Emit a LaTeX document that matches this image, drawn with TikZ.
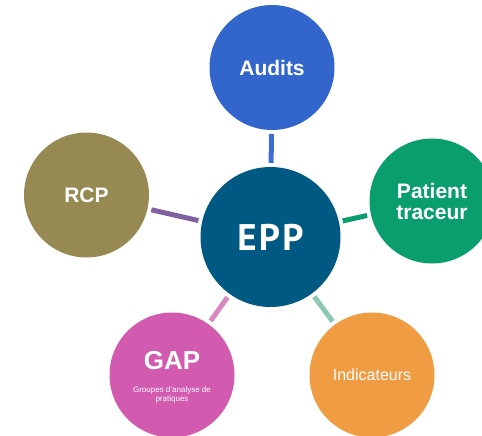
\documentclass[tikz,border=0pt]{standalone}
\usepackage{fontspec}
\setmainfont{Liberation Sans}
\newfontfamily\eppfont[LetterSpace=6]{PT Sans}
\definecolor{eppc}{RGB}{0,89,130}
\definecolor{audc}{RGB}{51,102,204}
\definecolor{patc}{RGB}{10,158,110}
\definecolor{indc}{RGB}{240,156,66}
\definecolor{gapc}{RGB}{210,90,175}
\definecolor{rcpc}{RGB}{150,138,82}
\definecolor{audl}{RGB}{60,110,210}
\definecolor{patl}{RGB}{10,158,110}
\definecolor{indl}{RGB}{140,200,180}
\definecolor{gapl}{RGB}{214,138,190}
\definecolor{rcpl}{RGB}{128,96,160}
\begin{document}
\begin{tikzpicture}[x=1pt,y=-1pt,
  bub/.style={circle, inner sep=0pt, outer sep=0pt, minimum size=125pt, text=white, align=center},
  conn/.style={line width=5pt, shorten <=4pt, shorten >=4pt},
  big/.style={font=\bfseries\fontsize{21}{21}\selectfont}]
\useasboundingbox (0,0) rectangle (482,436);
\clip (0,0) rectangle (482,436);
\node[bub, fill=eppc, minimum size=140pt] (epp) at (270.5,237) {\eppfont\bfseries\fontsize{37}{40}\selectfont EPP};
\node[bub, fill=audc, big] (aud) at (272,67.5) {Audits};
\node[bub, fill=patc, big] (pat) at (432,201) {Patient\\traceur};
\node[bub, fill=indc, font=\fontsize{16}{18}\selectfont] (ind) at (372,375) {Indicateurs};
\node[bub, fill=gapc] (gap) at (172,375) {};
\node[bub, fill=rcpc, big] (rcp) at (86.5,195) {RCP};
\node[text=white, anchor=base, inner sep=0pt, font=\bfseries\fontsize{26}{28}\selectfont] (gapt) at (172,369.3) {GAP};
\node[text=white, anchor=base, inner sep=0pt, font=\fontsize{8}{9}\selectfont] (gapsa) at (172,392.7) {Groupes d'analyse de};
\node[text=white, anchor=base, inner sep=0pt, font=\fontsize{8}{9}\selectfont] (gapsb) at (172,401) {pratiques};
\draw[conn, draw=audl] (epp) -- (aud);
\draw[conn, draw=patl] (epp) -- (pat);
\draw[conn, draw=indl] (epp) -- (ind);
\draw[conn, draw=gapl] (epp) -- (gap);
\draw[conn, draw=rcpl] (epp) -- (rcp);
\end{tikzpicture}
\end{document}
